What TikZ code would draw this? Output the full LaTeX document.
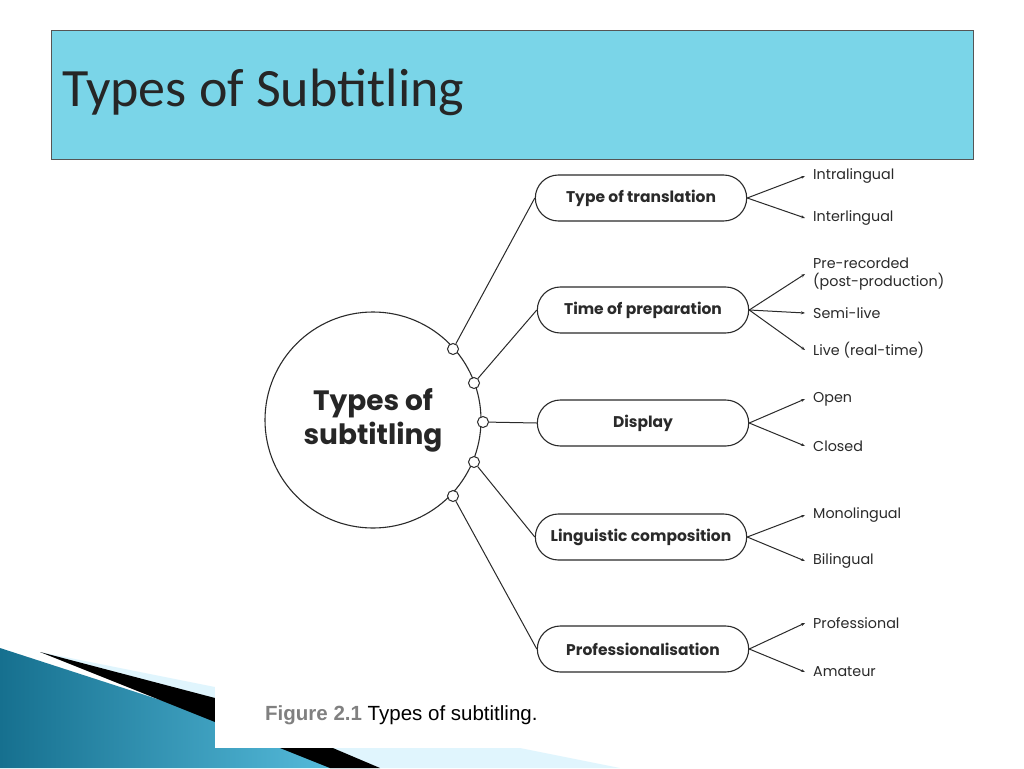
\documentclass[tikz,border=0pt]{standalone}
\usepackage{fontspec}
\setmainfont{Carlito}
\newfontfamily\pop{Poppins}
\newfontfamily\lib{Liberation Sans}
\usetikzlibrary{shapes.misc,arrows.meta}
\definecolor{titlebg}{HTML}{7AD5E8}
\definecolor{ink}{HTML}{2A2A2A}
\definecolor{deepblue}{HTML}{16708F}
\definecolor{lightblue}{HTML}{5CC3E3}
\begin{document}
\begin{tikzpicture}[x=1pt,y=-1pt,
  pill/.style={draw=ink,line width=1.1pt,rounded rectangle,minimum width=218pt,minimum height=46pt,font=\pop\bfseries\fontsize{15.5}{18}\selectfont,text=ink},
  knob/.style={draw=ink,fill=white,circle,inner sep=0pt,minimum size=11pt,line width=1pt},
  leaf/.style={anchor=west,font=\pop\fontsize{14.3}{18}\selectfont,text=ink,align=left,inner sep=0pt},
  conn/.style={draw=ink,line width=1pt},
  arr/.style={conn,-{Stealth[length=4pt,width=3pt]}}]
\useasboundingbox (0,0) rectangle (1024,768);
\fill[white] (0,0) rectangle (1024,768);
% decoration
\shade[left color=deepblue,right color=lightblue] (0,648) -- (370,768) -- (0,768) -- cycle;
\fill[cyan!12] (40,652) -- (620,768) -- (380,768) -- cycle;
\fill[black] (40,652) -- (215,698) -- (380,768) -- (330,768) -- cycle;
% title
\node[draw=ink!80,fill=titlebg,minimum width=922pt,minimum height=129pt,anchor=north west,inner sep=0pt] (title) at (51,30) {};
\node[anchor=west,font=\fontsize{54}{60}\selectfont,text=black!85,inner sep=0pt] (tt) at (62,92) {Types of Subtitling};
% figure box
\fill[white] (215,170) rectangle (962,748);
\node[conn,circle,minimum size=216pt,line width=1.1pt,font=\pop\bfseries\fontsize{28}{34}\selectfont,align=center,text=black!85] (main) at (373,420) {Types of\\subtitling};
\foreach \n/\x/\y in {k1/453/349,k2/474/383,k3/483/422,k4/474/462,k5/453/496}
  \node[knob] (\n) at (\x,\y) {};
\node[pill] (p1) at (641,198) {Type of translation};
\node[pill] (p2) at (643,310) {Time of preparation};
\node[pill] (p3) at (643,423) {Display};
\node[pill] (p4) at (641,537) {Linguistic composition};
\node[pill] (p5) at (643,649) {Professionalisation};
\draw[conn] (k1) -- (p1.west);
\draw[conn] (k2) -- (p2.west);
\draw[conn] (k3) -- (p3.west);
\draw[conn] (k4) -- (p4.west);
\draw[conn] (k5) -- (p5.west);
% leaves
\foreach \p/\n/\y/\t in {p1/a1/176/Intralingual,p1/a2/218/Interlingual,
  p2/b2/313/Semi-live,p2/b3/350/Live (real-time),
  p3/c1/399/Open,p3/c2/446/Closed,
  p4/d1/515/Monolingual,p4/d2/561/Bilingual,
  p5/e1/623/Professional,p5/e2/672/Amateur}{
  \node[leaf] (\n) at (813,\y) {\t};
  \draw[arr] (\p.east) -- ([xshift=-8pt]\n.west);
}
\node[leaf] (b1) at (813,274) {Pre-recorded\\(post-production)};
\draw[arr] (p2.east) -- ([xshift=-8pt]b1.west);
% caption
\node[anchor=west,font=\lib\fontsize{20.5}{24}\selectfont,inner sep=0pt] (cap) at (265,715) {\textcolor{gray}{\bfseries Figure 2.1} Types of subtitling.};
\end{tikzpicture}
\end{document}
